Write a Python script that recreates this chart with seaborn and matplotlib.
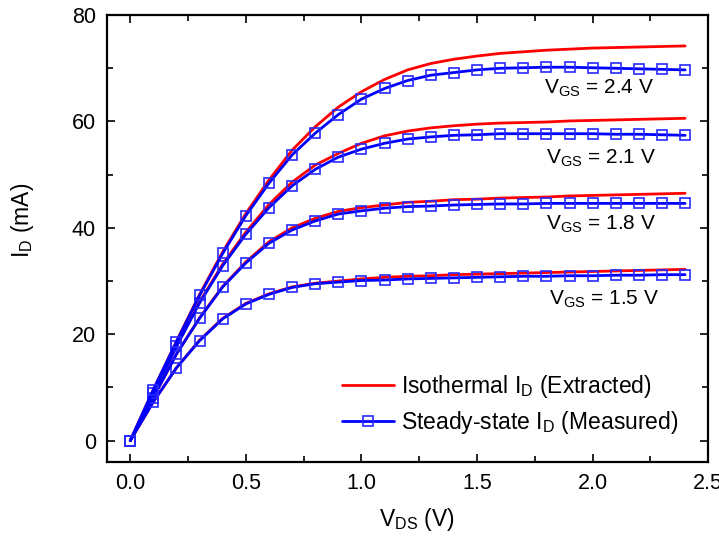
import matplotlib
matplotlib.use("Agg")
import matplotlib.pyplot as plt
from matplotlib.lines import Line2D
from matplotlib.ticker import MultipleLocator, FormatStrFormatter
import seaborn as sns

# drain voltage sweep (V)
vds = [0.0, 0.1, 0.2, 0.3, 0.4, 0.5, 0.6, 0.7, 0.8, 0.9, 1.0, 1.1, 1.2,
       1.3, 1.4, 1.5, 1.6, 1.7, 1.8, 1.9, 2.0, 2.1, 2.2, 2.3, 2.4]
vgs_labels = ["1.5", "1.8", "2.1", "2.4"]

# steady-state I_D (measured), mA
meas_15 = [0, 7.3, 13.7, 18.8, 22.9, 25.7, 27.5, 28.8, 29.5, 29.8, 30.1, 30.2, 30.4,
           30.5, 30.6, 30.7, 30.8, 30.9, 30.9, 31.0, 31.0, 31.1, 31.1, 31.2, 31.2]
meas_18 = [0, 8.1, 16.3, 23.0, 28.9, 33.4, 37.1, 39.6, 41.3, 42.6, 43.2, 43.7, 44.0,
           44.1, 44.3, 44.4, 44.5, 44.5, 44.6, 44.6, 44.6, 44.6, 44.6, 44.6, 44.6]
meas_21 = [0, 8.9, 17.7, 25.9, 32.9, 38.8, 43.8, 47.9, 51.0, 53.3, 54.8, 55.9, 56.7,
           57.1, 57.4, 57.5, 57.7, 57.7, 57.7, 57.7, 57.7, 57.6, 57.6, 57.5, 57.4]
meas_24 = [0, 9.6, 18.6, 27.3, 35.2, 42.3, 48.4, 53.7, 57.8, 61.3, 64.2, 66.2, 67.7,
           68.7, 69.2, 69.7, 70.0, 70.1, 70.2, 70.2, 70.1, 70.0, 69.9, 69.8, 69.7]

# isothermal I_D (extracted), mA
iso_15 = [0, 7.3, 13.7, 18.9, 23.0, 25.8, 27.6, 28.9, 29.6, 30.0, 30.4, 30.7, 30.9,
          31.0, 31.2, 31.3, 31.4, 31.5, 31.6, 31.7, 31.8, 31.9, 32.0, 32.1, 32.2]
iso_18 = [0, 8.1, 16.3, 23.1, 29.0, 33.6, 37.4, 40.0, 41.8, 43.1, 43.8, 44.3, 44.8,
          45.0, 45.3, 45.4, 45.6, 45.7, 45.8, 46.0, 46.1, 46.2, 46.3, 46.4, 46.5]
iso_21 = [0, 8.9, 17.8, 26.1, 33.2, 39.2, 44.4, 48.6, 51.8, 54.0, 55.9, 57.3, 58.2,
          58.8, 59.2, 59.5, 59.7, 59.8, 59.9, 60.1, 60.2, 60.3, 60.4, 60.5, 60.6]
iso_24 = [0, 9.6, 18.7, 27.5, 35.5, 42.7, 49.0, 54.6, 59.0, 62.7, 65.6, 67.9, 69.7,
          70.9, 71.7, 72.3, 72.8, 73.1, 73.4, 73.6, 73.8, 73.9, 74.0, 74.1, 74.2]

measured = [meas_15, meas_18, meas_21, meas_24]
isothermal = [iso_15, iso_18, iso_21, iso_24]

sns.set_style("ticks")
plt.rcParams["font.family"] = ["Liberation Sans", "DejaVu Sans"]
plt.rcParams["mathtext.default"] = "regular"
for key in ["text.color", "axes.labelcolor", "xtick.color", "ytick.color", "axes.edgecolor"]:
    plt.rcParams[key] = "black"

fig, ax = plt.subplots(figsize=(7.19, 5.39), dpi=100)
fig.subplots_adjust(left=0.149, right=0.985, top=0.972, bottom=0.143)

marker_kw = dict(marker="s", markersize=7.5, markerfacecolor="none",
                 markeredgecolor="#2828ff", markeredgewidth=1.2)

for iso in isothermal:
    sns.lineplot(x=vds, y=iso, ax=ax, color="#ff0000", linewidth=2.0, sort=False)
for meas in measured:
    sns.lineplot(x=vds, y=meas, ax=ax, color="#0000ff", linewidth=2.0, sort=False,
                 **marker_kw)

# V_GS annotations next to each curve
label_pos = [(1.81, 26.5), (1.80, 40.6), (1.80, 53.1), (1.79, 66.3)]
for vg, (xp, yp) in zip(vgs_labels, label_pos):
    ax.text(xp, yp, r"$V_{GS}$ = " + vg + " V", fontsize=15, ha="left", va="center")

ax.set_xlim(-0.1, 2.5)
ax.set_ylim(-4, 80)
ax.xaxis.set_major_locator(MultipleLocator(0.5))
ax.xaxis.set_minor_locator(MultipleLocator(0.25))
ax.yaxis.set_major_locator(MultipleLocator(20))
ax.yaxis.set_minor_locator(MultipleLocator(10))
ax.xaxis.set_major_formatter(FormatStrFormatter("%.1f"))
ax.tick_params(which="both", direction="in", top=True, right=True, width=1.2)
ax.tick_params(which="major", length=6, labelsize=15.5, pad=8)
ax.tick_params(which="minor", length=4)
for sp in ax.spines.values():
    sp.set_linewidth(1.6)

ax.set_xlabel(r"$V_{DS}$ (V)", fontsize=16.5)
ax.set_ylabel(r"$I_D$ (mA)", fontsize=16.5)
ax.xaxis.set_label_coords(0.515, -0.098)
ax.yaxis.set_label_coords(-0.118, 0.54)

handles = [
    Line2D([], [], color="#ff0000", linewidth=2.0),
    Line2D([], [], color="#0000ff", linewidth=2.0, **marker_kw),
]
ax.legend(handles, [r"Isothermal $I_D$ (Extracted)", r"Steady-state $I_D$ (Measured)"],
          loc="lower right", bbox_to_anchor=(0.985, 0.011), frameon=False, fontsize=16.5,
          handlelength=2.3, handletextpad=0.3, labelspacing=0.43)

fig.savefig("out.png", dpi=100)
